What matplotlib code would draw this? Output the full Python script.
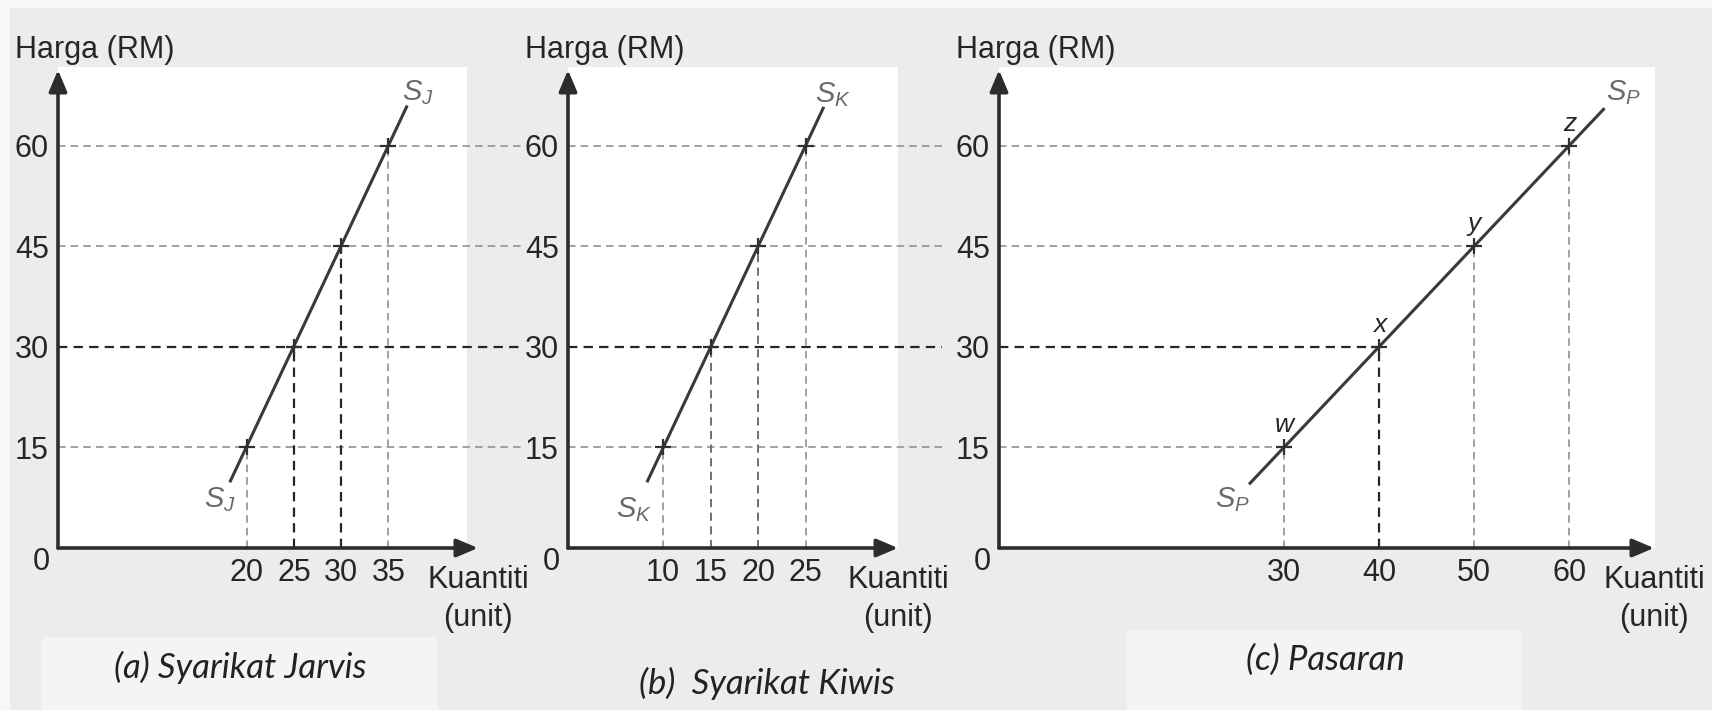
import matplotlib
matplotlib.use("Agg")
import matplotlib.pyplot as plt
from matplotlib.patches import Rectangle

plt.rcParams['font.family'] = ['Liberation Sans', 'DejaVu Sans']
plt.rcParams['mathtext.fontset'] = 'custom'
plt.rcParams['mathtext.it'] = 'Liberation Sans:italic'
plt.rcParams['mathtext.rm'] = 'Liberation Sans'

# ---------------- data ----------------
prices = [15, 30, 45, 60]
qty_jarvis = [20, 25, 30, 35]
qty_kiwis = [10, 15, 20, 25]
qty_pasaran = [30, 40, 50, 60]
point_labels = ['w', 'x', 'y', 'z']

jarvis_line_q = [18.2, 37.0]
jarvis_line_p = [9.8, 66.0]
kiwis_line_q = [8.3, 26.9]
kiwis_line_p = [9.8, 65.8]
pasaran_line_q = [26.3, 63.7]
pasaran_line_p = [9.5, 65.6]

captions = ['(a) Syarikat Jarvis', '(b)  Syarikat Kiwis', '(c) Pasaran']
y_label = 'Harga (RM)'
x_label = ['Kuantiti', '(unit)']

# ---------------- layout (pixels) ----------------
W, H = 1712, 710
fig = plt.figure(figsize=(W / 100, H / 100), dpi=100)
fig.patch.set_facecolor('#f7f7f7')


def fx(x):
    return x / W


def fy(y):
    return 1 - y / H


def rect(x0, y0, x1, y1, color, z=-10):
    fig.add_artist(Rectangle((fx(x0), fy(y1)), (x1 - x0) / W, (y1 - y0) / H,
                             transform=fig.transFigure, facecolor=color,
                             edgecolor='none', zorder=z))


rect(10, 8, W, H, '#ececec', -12)
rect(42, 637, 437, H, '#f4f4f4', -11)
rect(1127, 630, 1522, H, '#f4f4f4', -11)

AX_TOP, AX_BOT = 70, 548
YMAX = 71.3

panels = [
    dict(left=58, right=478, white_r=467, xmax=44.5, q=qty_jarvis,
         lq=jarvis_line_q, lp=jarvis_line_p, sub='J', hend=49.3,
         dark_v=[1, 2], top_lab=(38.1, 68.0), bot_lab=(17.1, 7.2),
         cap_x=240, cap_y=667, hline_to_point=False),
    dict(left=568, right=898, white_r=898, xmax=34.7, q=qty_kiwis,
         lq=kiwis_line_q, lp=kiwis_line_p, sub='K', hend=39.3,
         dark_v=[], mid_v=[1, 2], top_lab=(27.9, 67.6), bot_lab=(6.9, 5.7),
         cap_x=767, cap_y=683, hline_to_point=False),
    dict(left=999, right=1654, white_r=1655, xmax=68.9, q=qty_pasaran,
         lq=pasaran_line_q, lp=pasaran_line_p, sub='P', hend=None,
         dark_v=[1], top_lab=(65.7, 67.9), bot_lab=(24.6, 7.2),
         cap_x=1325, cap_y=660, hline_to_point=True),
]

TXT = '#262626'
LIGHT = '#9a9a9a'
DARK = '#262626'
MID = '#707070'
FS = 22

for i, pnl in enumerate(panels):
    rect(pnl['left'], 67, pnl['white_r'], AX_BOT, 'white', -9)
    ax = fig.add_axes([fx(pnl['left']), fy(AX_BOT),
                       (pnl['right'] - pnl['left']) / W, (AX_BOT - AX_TOP) / H])
    ax.set_facecolor('none')
    ax.set_xlim(0, pnl['xmax'])
    ax.set_ylim(0, YMAX)
    for s in ax.spines.values():
        s.set_visible(False)

    # axes with arrows
    ap = dict(arrowstyle='-|>,head_length=1.3,head_width=0.55', lw=2.6,
              color='#2c2c2c', shrinkA=0, shrinkB=0)
    ax.annotate('', xy=(1, 0), xytext=(0, 0), xycoords='axes fraction',
                arrowprops=ap, annotation_clip=False)
    ax.annotate('', xy=(0, 1), xytext=(0, 0), xycoords='axes fraction',
                arrowprops=ap, annotation_clip=False)

    # ticks
    ax.set_xticks(pnl['q'])
    ax.set_xticklabels([str(v) for v in pnl['q']])
    ax.set_yticks(prices)
    ax.set_yticklabels([str(v) for v in prices])
    ax.tick_params(axis='both', length=0, labelsize=FS, labelcolor=TXT)
    ax.tick_params(axis='x', pad=18)
    ax.tick_params(axis='y', pad=6.5)
    for lab in ax.get_xticklabels():
        lab.set_va('center')
    ax.annotate('0', xy=(0, 0), xytext=(-8, -14), textcoords='offset pixels',
                ha='right', va='center', fontsize=FS, color=TXT,
                annotation_clip=False)

    # axis labels
    ax.annotate(y_label, xy=(0, 1), xycoords='axes fraction', xytext=(-43, 20),
                textcoords='offset pixels', ha='left', va='center',
                fontsize=FS, color=TXT, annotation_clip=False)
    ax.annotate(x_label[0], xy=(1, 0), xycoords='axes fraction', xytext=(0, -32),
                textcoords='offset pixels', ha='center', va='center',
                fontsize=FS, color=TXT, annotation_clip=False)
    ax.annotate(x_label[1], xy=(1, 0), xycoords='axes fraction', xytext=(0, -70),
                textcoords='offset pixels', ha='center', va='center',
                fontsize=FS, color=TXT, annotation_clip=False)

    # guide lines
    for j, (q, p) in enumerate(zip(pnl['q'], prices)):
        hc, hw = (DARK, 1.6) if p == 30 else (LIGHT, 1.3)
        hend = q if pnl['hline_to_point'] else pnl['hend']
        ax.plot([0, hend], [p, p], color=hc, lw=hw, dashes=(4.2, 2.8),
                clip_on=False, zorder=2)
        if j in pnl['dark_v']:
            vc, vw = DARK, 1.6
        elif j in pnl.get('mid_v', []):
            vc, vw = MID, 1.4
        else:
            vc, vw = LIGHT, 1.3
        ax.plot([q, q], [0, p], color=vc, lw=vw, dashes=(4.2, 2.8),
                clip_on=False, zorder=2)

    # supply line and points
    ax.plot(pnl['lq'], pnl['lp'], color='#3a3a3a', lw=2.2, zorder=3,
            clip_on=False, solid_capstyle='butt')
    ax.plot(pnl['q'], prices, linestyle='none', marker='+', ms=11, mew=1.6,
            color='#303030', zorder=4, clip_on=False)

    lab = r'$S_{%s}$' % pnl['sub']
    ax.text(*pnl['top_lab'], lab, fontsize=21, color='#6a6a6a',
            ha='center', va='center')
    ax.text(*pnl['bot_lab'], lab, fontsize=21, color='#6a6a6a',
            ha='center', va='center')

    if i == 2:
        for q, p, t in zip(pnl['q'], prices, point_labels):
            ax.annotate(t, xy=(q, p), xytext=(0, 22), textcoords='offset pixels',
                        ha='center', va='center', fontsize=19, style='italic',
                        color=TXT)

    fig.text(fx(pnl['cap_x']), fy(pnl['cap_y']), captions[i],
             family=['Lato', 'DejaVu Sans'], style='italic', fontsize=25,
             color='#222222', ha='center', va='center')

fig.savefig('out.png', dpi=100, facecolor=fig.get_facecolor())
